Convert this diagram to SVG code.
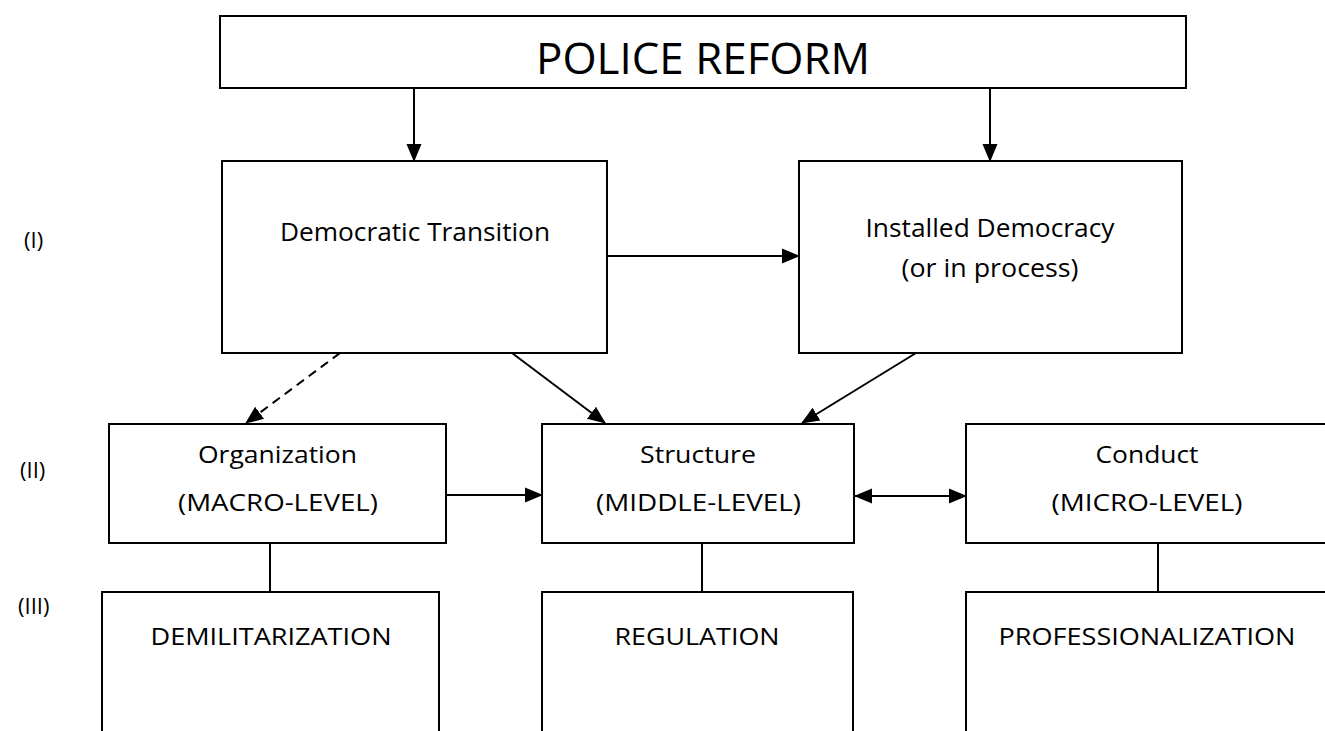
<svg xmlns="http://www.w3.org/2000/svg" width="1325" height="731" viewBox="0 0 1325 731">
  <style>
    .box { fill: #ffffff; stroke: #000000; stroke-width: 2; }
    .conn { fill: none; stroke: #000000; stroke-width: 2; }
    .dash { stroke-dasharray: 9 6; }
    .t { font-family: "Open Sans", "Noto Sans", "DejaVu Sans", sans-serif; fill: #000000; text-anchor: middle; }
    .lbl { font-family: "Open Sans", "Noto Sans", "DejaVu Sans", sans-serif; fill: #000000; font-size: 22px; }
  </style>
  <defs>
    <marker id="ah" markerUnits="userSpaceOnUse" markerWidth="18" markerHeight="18" viewBox="0 0 18 18" refX="17" refY="9" orient="auto-start-reverse">
      <path d="M0,1.5 L18,9 L0,16.5 Z" fill="#000000"/>
    </marker>
  </defs>

  <g id="level-labels">
    <text class="lbl" x="24" y="248">(I)</text>
    <text class="lbl" x="20" y="478">(II)</text>
    <text class="lbl" x="18" y="614">(III)</text>
  </g>

  <g id="connectors">
    <line class="conn" x1="414" y1="88" x2="414" y2="161" marker-end="url(#ah)"/>
    <line class="conn" x1="990" y1="88" x2="990" y2="161" marker-end="url(#ah)"/>
    <line class="conn" x1="607" y1="256" x2="799" y2="256" marker-end="url(#ah)"/>
    <line class="conn dash" x1="340" y1="353" x2="246" y2="423" marker-end="url(#ah)"/>
    <line class="conn" x1="512" y1="353" x2="605" y2="423" marker-end="url(#ah)"/>
    <line class="conn" x1="916" y1="353" x2="802" y2="423" marker-end="url(#ah)"/>
    <line class="conn" x1="446" y1="495" x2="542" y2="495" marker-end="url(#ah)"/>
    <line class="conn" x1="855" y1="496" x2="966" y2="496" marker-start="url(#ah)" marker-end="url(#ah)"/>
    <line class="conn" x1="270" y1="543" x2="270" y2="592"/>
    <line class="conn" x1="702" y1="543" x2="702" y2="592"/>
    <line class="conn" x1="1158" y1="543" x2="1158" y2="592"/>
  </g>

  <g id="police-reform">
    <rect class="box" x="220" y="16" width="966" height="72"/>
    <text class="t" x="703" y="74" font-size="44" textLength="334" lengthAdjust="spacingAndGlyphs">POLICE REFORM</text>
  </g>

  <g id="democratic-transition">
    <rect class="box" x="222" y="161" width="385" height="192"/>
    <text class="t" x="415" y="241" font-size="25" textLength="270" lengthAdjust="spacingAndGlyphs">Democratic Transition</text>
  </g>

  <g id="installed-democracy">
    <rect class="box" x="799" y="161" width="383" height="192"/>
    <text class="t" x="990" y="237" font-size="25" textLength="249" lengthAdjust="spacingAndGlyphs">Installed Democracy</text>
    <text class="t" x="990" y="277" font-size="25" textLength="177" lengthAdjust="spacingAndGlyphs">(or in process)</text>
  </g>

  <g id="organization">
    <rect class="box" x="109" y="424" width="337" height="119"/>
    <text class="t" x="277.5" y="463" font-size="24" textLength="159" lengthAdjust="spacingAndGlyphs">Organization</text>
    <text class="t" x="278" y="511" font-size="24" textLength="200" lengthAdjust="spacingAndGlyphs">(MACRO-LEVEL)</text>
  </g>

  <g id="structure">
    <rect class="box" x="542" y="424" width="312" height="119"/>
    <text class="t" x="698" y="463" font-size="24" textLength="116" lengthAdjust="spacingAndGlyphs">Structure</text>
    <text class="t" x="698.5" y="511" font-size="24" textLength="205" lengthAdjust="spacingAndGlyphs">(MIDDLE-LEVEL)</text>
  </g>

  <g id="conduct">
    <rect class="box" x="966" y="424" width="370" height="119"/>
    <text class="t" x="1147" y="463" font-size="24" textLength="103" lengthAdjust="spacingAndGlyphs">Conduct</text>
    <text class="t" x="1147" y="511" font-size="24" textLength="191" lengthAdjust="spacingAndGlyphs">(MICRO-LEVEL)</text>
  </g>

  <g id="demilitarization">
    <rect class="box" x="102" y="592" width="337" height="150"/>
    <text class="t" x="271" y="645" font-size="24" textLength="241" lengthAdjust="spacingAndGlyphs">DEMILITARIZATION</text>
  </g>

  <g id="regulation">
    <rect class="box" x="542" y="592" width="311" height="150"/>
    <text class="t" x="697" y="645" font-size="24" textLength="165" lengthAdjust="spacingAndGlyphs">REGULATION</text>
  </g>

  <g id="professionalization">
    <rect class="box" x="966" y="592" width="370" height="150"/>
    <text class="t" x="1147" y="645" font-size="24" textLength="297" lengthAdjust="spacingAndGlyphs">PROFESSIONALIZATION</text>
  </g>
</svg>
